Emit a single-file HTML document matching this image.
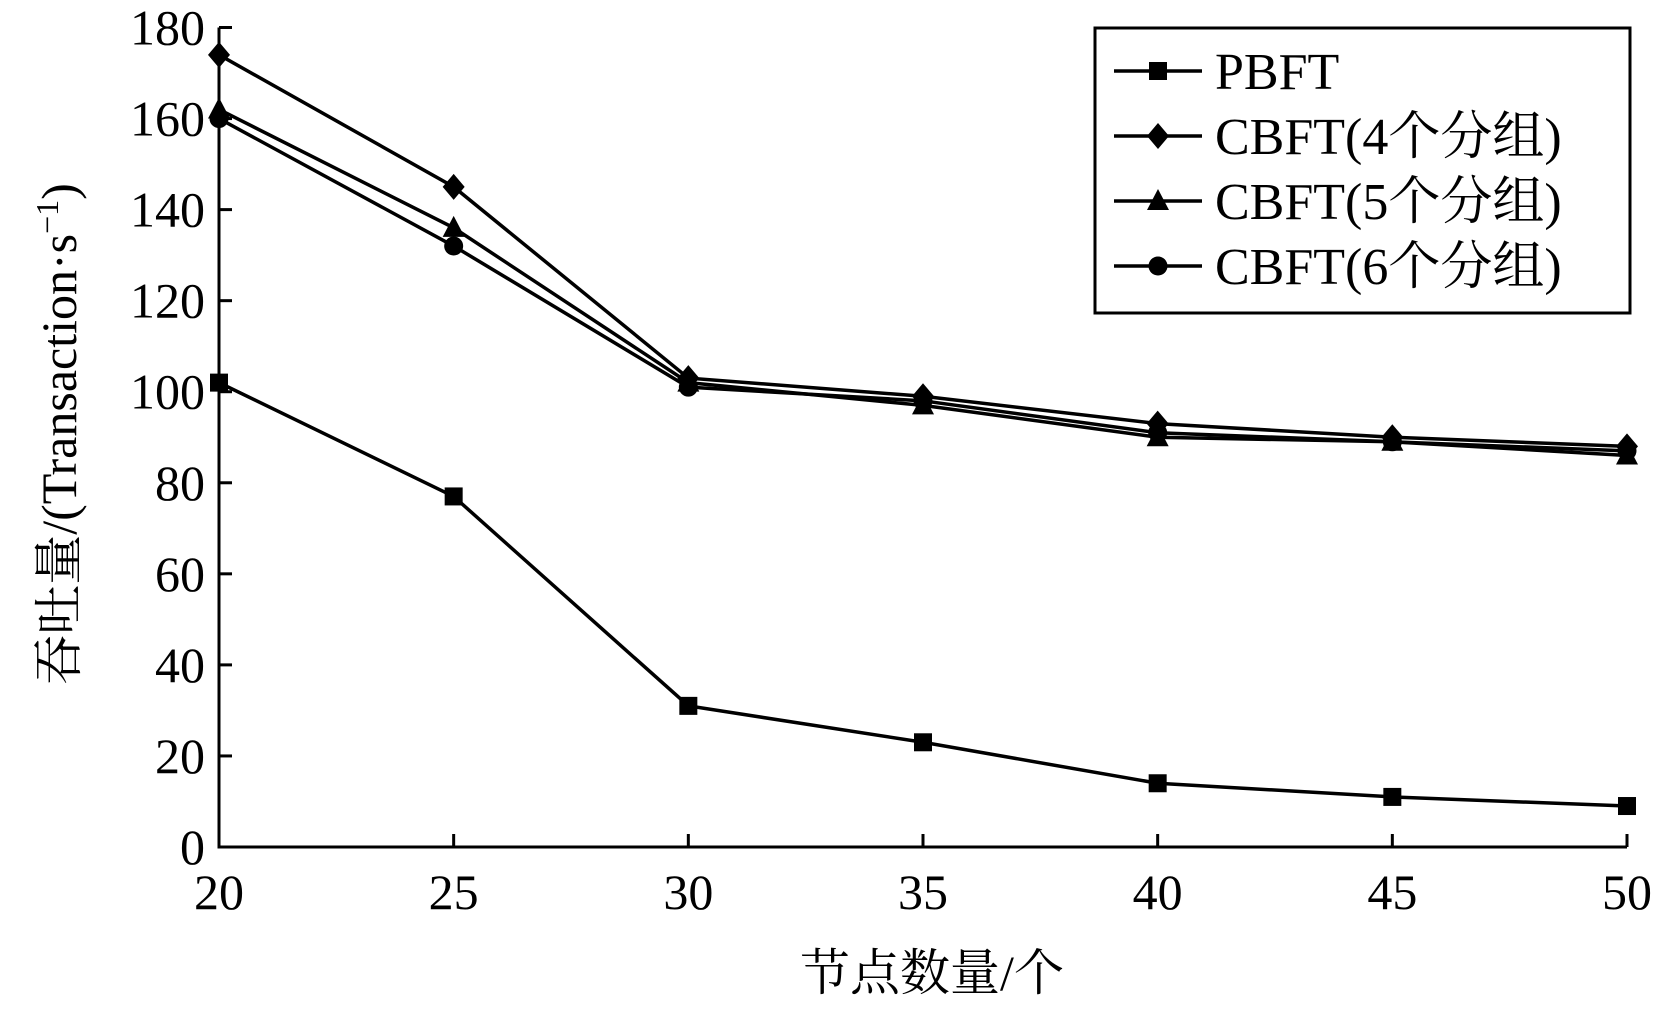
<!DOCTYPE html>
<html><head><meta charset="utf-8"><style>body{margin:0;background:#fff}svg{display:block}</style></head>
<body>
<svg id="chart" width="1660" height="1009" viewBox="0 0 1660 1009" xmlns="http://www.w3.org/2000/svg" font-family="'Liberation Serif','Noto Serif CJK SC',serif"></svg>
<script>
const xCats=[20,25,30,35,40,45,50];
const yTicks=[0,20,40,60,80,100,120,140,160,180];
const pbft=[102,77,31,23,14,11,9];
const cbft4=[174,145,103,99,93,90,88];
const cbft5=[162,136,102,97,90,89,86];
const cbft6=[160,132,101,98,91,89,87];
const seriesNames=["PBFT","CBFT(4个分组)","CBFT(5个分组)","CBFT(6个分组)"];
const seriesData=[pbft,cbft4,cbft5,cbft6];
const markers=["square","diamond","triangle","circle"];

const svg=document.getElementById('chart');
const NS='http://www.w3.org/2000/svg';
const L=219,R=1627,T=27.5,B=847;
const xs=v=>L+(v-20)/30*(R-L);
const ys=v=>B-v/180*(B-T);
function mk(tag,attrs,parent){const e=document.createElementNS(NS,tag);for(const k in attrs)e.setAttribute(k,attrs[k]);(parent||svg).appendChild(e);return e;}
function marker(type,x,y,g){
  let e;
  if(type==='square')e=mk('rect',{x:x-9,y:y-9,width:18,height:18,fill:'#000'},g);
  else if(type==='diamond')e=mk('polygon',{points:`${x},${y-13} ${x+11},${y} ${x},${y+13} ${x-11},${y}`,fill:'#000'},g);
  else if(type==='triangle')e=mk('polygon',{points:`${x},${y-12} ${x+11},${y+9} ${x-11},${y+9}`,fill:'#000'},g);
  else e=mk('circle',{cx:x,cy:y,r:9.5,fill:'#000'},g);
  
  
}
// axes
const ax=mk('path',{d:`M${L},${T} L${L},${B} L${R},${B}`,stroke:'#000','stroke-width':3,fill:'none'});


yTicks.forEach(v=>{
  const t=mk('line',{x1:L,x2:L+13,y1:ys(v),y2:ys(v),stroke:'#000','stroke-width':3});
  
  
  const tx=mk('text',{x:L-14,y:ys(v)+17,'text-anchor':'end','font-size':50});
  tx.textContent=v;
  
  
});
xCats.forEach(v=>{
  const t=mk('line',{x1:xs(v),x2:xs(v),y1:B,y2:B-13,stroke:'#000','stroke-width':3});
  
  
  const tx=mk('text',{x:xs(v),y:B+62,'text-anchor':'middle','font-size':50});
  tx.textContent=v;
  
  
});
const xl=mk('text',{x:932,y:990,'text-anchor':'middle','font-size':50});
xl.textContent='节点数量/个';


const yl=mk('text',{x:0,y:0,'text-anchor':'middle','font-size':50,transform:'translate(76,434) rotate(-90)'});
yl.innerHTML='吞吐量/(Transaction·s<tspan dy="-18" font-size="32">−1</tspan><tspan dy="18">)</tspan>';


// series
seriesData.forEach((d,i)=>{
  const g=mk('g',{});
  
  
  const p=mk('polyline',{points:d.map((v,j)=>xs(xCats[j])+','+ys(v)).join(' '),fill:'none',stroke:'#000','stroke-width':3.5},g);
  
  
  d.forEach((v,j)=>marker(markers[i],xs(xCats[j]),ys(v),g));
});
// legend
const lg=mk('g',{});


const lb=mk('rect',{x:1095,y:28,width:535,height:285,fill:'#fff',stroke:'#000','stroke-width':3},lg);


seriesNames.forEach((n,i)=>{
  const y=71+i*65;
  const e=mk('g',{},lg);
  
  
  mk('line',{x1:1114,x2:1202,y1:y,y2:y,stroke:'#000','stroke-width':3.5},e);
  marker(markers[i],1158,y,e);
  const t=mk('text',{x:1215,y:y+18,'font-size':52},e);
  t.textContent=n;
});
</script>
</body></html>
